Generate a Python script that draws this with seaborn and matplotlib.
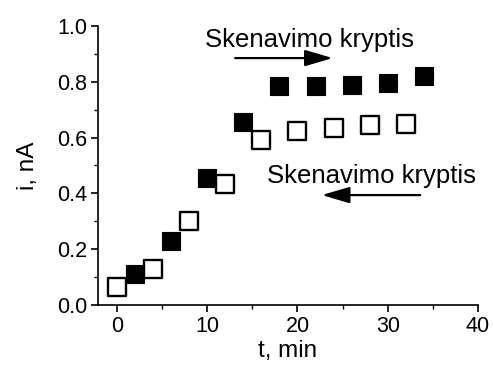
import matplotlib
matplotlib.use("Agg")
import matplotlib.pyplot as plt
import seaborn as sns
import pandas as pd
from matplotlib.ticker import MultipleLocator, FormatStrFormatter

# Forward scan (filled squares)
t_forward = [2, 6, 10, 14, 18, 22, 26, 30, 34]
i_forward = [0.11, 0.23, 0.455, 0.655, 0.785, 0.785, 0.79, 0.795, 0.82]

# Reverse scan (open squares)
t_reverse = [0, 4, 8, 12, 16, 20, 24, 28, 32]
i_reverse = [0.065, 0.13, 0.30, 0.435, 0.59, 0.625, 0.635, 0.645, 0.65]

label_text = "Skenavimo kryptis"

sns.set_theme(style="ticks")
plt.rcParams["font.family"] = ["Liberation Sans", "DejaVu Sans"]
plt.rcParams["text.color"] = "black"
plt.rcParams["axes.labelcolor"] = "black"

df_f = pd.DataFrame({"t": t_forward, "i": i_forward})
df_r = pd.DataFrame({"t": t_reverse, "i": i_reverse})

fig = plt.figure(figsize=(4.93, 3.65), dpi=100)
ax = fig.add_axes([98 / 493, 60 / 365, (478 - 98) / 493, (305 - 26) / 365])

sns.scatterplot(data=df_r, x="t", y="i", ax=ax, marker="s", s=160,
                facecolor="white", edgecolor="black", linewidth=1.7, zorder=3)
sns.scatterplot(data=df_f, x="t", y="i", ax=ax, marker="s", s=175,
                color="black", edgecolor="black", linewidth=0.8, zorder=4)

ax.set_xlim(-2.1, 40)
ax.set_ylim(0, 1.0)
ax.xaxis.set_major_locator(MultipleLocator(10))
ax.xaxis.set_minor_locator(MultipleLocator(5))
ax.yaxis.set_major_locator(MultipleLocator(0.2))
ax.yaxis.set_minor_locator(MultipleLocator(0.1))
ax.yaxis.set_major_formatter(FormatStrFormatter("%.1f"))

for side in ("top", "right"):
    ax.spines[side].set_visible(False)
for side in ("left", "bottom"):
    ax.spines[side].set_color("black")
    ax.spines[side].set_linewidth(1.2)

ax.tick_params(which="major", direction="out", length=5, width=1.2,
               labelsize=15.5, colors="black", pad=3)
ax.tick_params(which="minor", direction="out", length=3, width=1.0, colors="black")

ax.set_xlabel("t, min", fontsize=17.5, labelpad=2, color="black")
ax.set_ylabel("i, nA", fontsize=17.5, labelpad=13, color="black")

arrow_style = dict(arrowstyle="-|>,head_length=0.85,head_width=0.25",
                   color="black", lw=1.6, mutation_scale=20,
                   shrinkA=0, shrinkB=0)

ax.text(21.3, 0.925, label_text, fontsize=18.5, ha="center", va="baseline",
        color="black")
ax.annotate("", xy=(23.9, 0.885), xytext=(13.1, 0.885), arrowprops=arrow_style)

ax.text(28.2, 0.437, label_text, fontsize=18.5, ha="center", va="baseline",
        color="black")
ax.annotate("", xy=(22.7, 0.394), xytext=(33.6, 0.394), arrowprops=arrow_style)

fig.savefig("out.png", dpi=100)
